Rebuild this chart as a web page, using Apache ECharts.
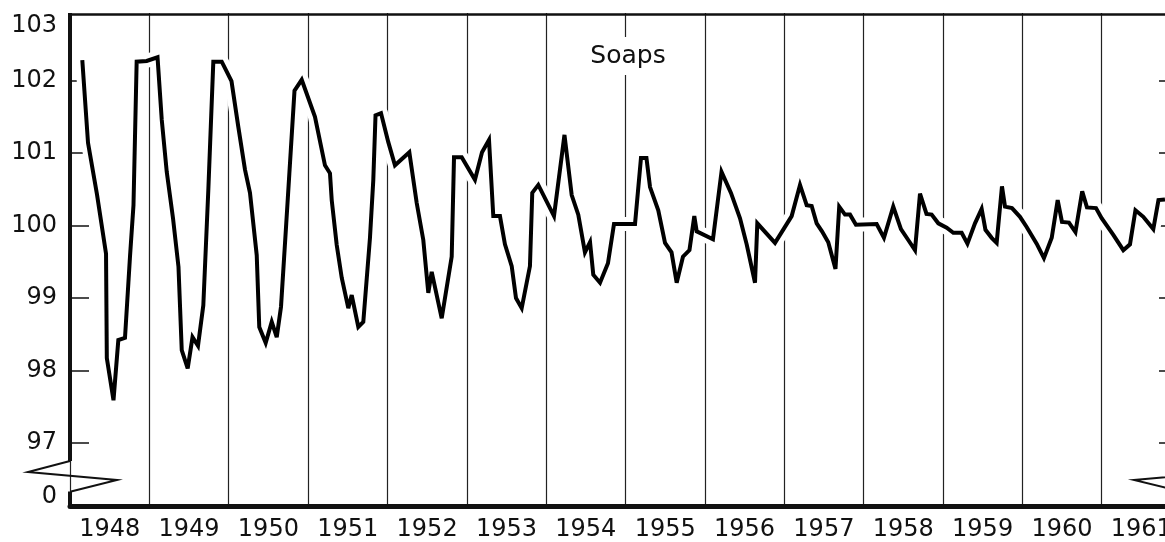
<!DOCTYPE html>
<html>
<head>
<meta charset="utf-8">
<title>Soaps</title>
<script src="https://cdn.jsdelivr.net/npm/echarts@6/dist/echarts.min.js"></script>
<style>
  html, body { margin: 0; padding: 0; background: #fff; }
  #chart { width: 1165px; height: 542px; }
</style>
</head>
<body>
<div id="chart"></div>
<script>
var chartTitle = 'Soaps';
var yearLabels = ['1948', '1949', '1950', '1951', '1952', '1953', '1954',
    '1955', '1956', '1957', '1958', '1959', '1960', '1961'];

// where each corner of the curve sits, in years
var pointYear = [
    1948.155, 1948.227, 1948.340, 1948.454, 1948.464, 1948.548, 1948.609, 1948.693, 1948.756, 1948.800,
    1948.840, 1948.966, 1949.103, 1949.156, 1949.219, 1949.298, 1949.367, 1949.408, 1949.483, 1949.544,
    1949.613, 1949.680, 1949.743, 1949.806, 1949.912, 1950.035, 1950.121, 1950.205, 1950.268, 1950.353,
    1950.385, 1950.466, 1950.542, 1950.605, 1950.659, 1950.716, 1950.829, 1950.920, 1951.087, 1951.213,
    1951.276, 1951.298, 1951.361, 1951.424, 1951.507, 1951.550, 1951.633, 1951.696, 1951.780, 1951.822,
    1951.850, 1951.919, 1952.011, 1952.095, 1952.276, 1952.369, 1952.452, 1952.515, 1952.558, 1952.684,
    1952.810, 1952.839, 1952.936, 1953.103, 1953.192, 1953.280, 1953.334, 1953.418, 1953.481, 1953.566,
    1953.620, 1953.692, 1953.796, 1953.825, 1953.901, 1954.099, 1954.231, 1954.322, 1954.405, 1954.489,
    1954.553, 1954.594, 1954.679, 1954.779, 1954.855, 1955.120, 1955.195, 1955.264, 1955.309, 1955.413,
    1955.498, 1955.580, 1955.645, 1955.724, 1955.806, 1955.867, 1955.897, 1956.102, 1956.210, 1956.329,
    1956.443, 1956.527, 1956.632, 1956.661, 1956.884, 1957.094, 1957.199, 1957.283, 1957.346, 1957.409,
    1957.476, 1957.555, 1957.646, 1957.693, 1957.766, 1957.829, 1957.904, 1958.165, 1958.257, 1958.374,
    1958.471, 1958.563, 1958.648, 1958.711, 1958.793, 1958.858, 1958.942, 1959.047, 1959.131, 1959.236,
    1959.309, 1959.404, 1959.488, 1959.536, 1959.614, 1959.677, 1959.744, 1959.782, 1959.870, 1959.971,
    1960.055, 1960.181, 1960.273, 1960.371, 1960.446, 1960.500, 1960.588, 1960.670, 1960.755, 1960.815,
    1960.929, 1961.000, 1961.147, 1961.273, 1961.357, 1961.426, 1961.525, 1961.651, 1961.716, 1961.798
];
var pointValue = [
    102.28, 101.14, 100.43, 99.61, 98.17, 97.59, 98.42, 98.45, 99.57, 100.28,
    102.26, 102.27, 102.32, 101.46, 100.74, 100.10, 99.43, 98.28, 98.03, 98.46,
    98.34, 98.90, 100.49, 102.26, 102.26, 101.99, 101.36, 100.77, 100.45, 99.59,
    98.60, 98.38, 98.67, 98.46, 98.88, 99.87, 101.86, 102.01, 101.50, 100.83,
    100.72, 100.35, 99.73, 99.28, 98.86, 99.04, 98.60, 98.67, 99.83, 100.63,
    101.52, 101.55, 101.15, 100.83, 101.01, 100.31, 99.80, 99.07, 99.36, 98.72,
    99.57, 100.94, 100.94, 100.63, 101.01, 101.18, 100.13, 100.13, 99.74, 99.44,
    99.00, 98.86, 99.44, 100.45, 100.56, 100.13, 101.25, 100.42, 100.15, 99.63,
    99.77, 99.32, 99.21, 99.48, 100.02, 100.02, 100.93, 100.93, 100.53, 100.21,
    99.76, 99.63, 99.21, 99.57, 99.66, 100.13, 99.92, 99.81, 100.74, 100.45,
    100.10, 99.74, 99.21, 100.03, 99.76, 100.13, 100.56, 100.28, 100.27, 100.03,
    99.92, 99.77, 99.40, 100.26, 100.15, 100.15, 100.01, 100.02, 99.83, 100.26,
    99.95, 99.80, 99.66, 100.44, 100.16, 100.15, 100.03, 99.97, 99.90, 99.90,
    99.75, 100.03, 100.23, 99.94, 99.83, 99.76, 100.54, 100.26, 100.24, 100.12,
    99.98, 99.75, 99.55, 99.83, 100.35, 100.05, 100.04, 99.91, 100.47, 100.25,
    100.24, 100.10, 99.87, 99.66, 99.74, 100.21, 100.12, 99.95, 100.35, 100.36
];

// the value scale jumps from 0 straight up to 97
var breakStart = 0;
var breakEnd = 97;

var fontName = 'DejaVu Sans';
var ink = '#111';

var chart = echarts.init(document.getElementById('chart'));

function yLabel(v) {
    var r = Math.round(v);
    if (Math.abs(v - r) > 1e-6) return '';
    if (r === 103) return '{top|103}';
    if (r === 0) return '{low|0}';
    return String(r);
}

function valueAxis(pos) {
    var left = pos == 'left';
    var labelFont = {color: ink, fontFamily: fontName, fontSize: 24};
    return {
        type: 'value',
        position: pos,
        min: 0,
        max: 103,
        interval: 1,
        breaks: [{start: breakStart, end: breakEnd, gap: 0.869}],
        breakArea: {show: false},
        axisLine: {show: left, lineStyle: {color: ink, width: 4}},
        axisTick: {show: true, inside: true, length: left ? 19 : 22, lineStyle: {color: ink, width: 1.5}},
        axisLabel: {
            show: left,
            margin: 13,
            color: ink,
            fontFamily: fontName,
            fontSize: 24,
            formatter: yLabel,
            rich: {
                top: Object.assign({padding: [36, 0, 0, 0]}, labelFont),
                low: Object.assign({padding: [0, 0, 18, 0]}, labelFont)
            }
        },
        splitLine: {show: false}
    };
}

var linePoints = pointYear.map(function (x, i) {
    return [x, pointValue[i]];
});

var option = {
    animation: false,
    backgroundColor: '#fff',
    title: {
        text: chartTitle,
        left: 620,
        top: 37,
        textAlign: 'center',
        backgroundColor: '#fff',
        padding: [6, 8],
        textStyle: {fontFamily: fontName, fontSize: 25, fontWeight: 'normal', color: ink, lineHeight: 26}
    },
    grid: {left: 70, right: -16, top: 8, bottom: 36, containLabel: false, outerBoundsMode: 'none'},
    xAxis: [
        {
            type: 'value',
            min: 1948,
            max: 1962,
            interval: 1,
            axisLine: {onZero: false, lineStyle: {color: ink, width: 5}},
            axisTick: {show: false},
            axisLabel: {show: false},
            splitLine: {show: true, lineStyle: {color: '#222', width: 1.2}}
        },
        {
            type: 'category',
            data: yearLabels,
            boundaryGap: true,
            position: 'bottom',
            axisLine: {show: false},
            axisTick: {show: false},
            axisLabel: {interval: 0, margin: 12, color: ink, fontFamily: fontName, fontSize: 24},
            splitLine: {show: false}
        },
        {
            // top frame
            type: 'value',
            position: 'top',
            offset: -6,
            min: 1948,
            max: 1962,
            axisLine: {onZero: false, lineStyle: {color: ink, width: 2.5}},
            axisTick: {show: false},
            axisLabel: {show: false},
            splitLine: {show: false}
        }
    ],
    yAxis: [valueAxis('left'), valueAxis('right')],
    series: [
        {
            // white margin that cuts the grid lines round the curve
            type: 'line',
            xAxisIndex: 0,
            yAxisIndex: 0,
            data: linePoints,
            symbol: 'none',
            silent: true,
            z: 2,
            lineStyle: {color: '#fff', width: 14, join: 'round'}
        },
        {
            name: chartTitle,
            type: 'line',
            xAxisIndex: 0,
            yAxisIndex: 0,
            data: linePoints,
            symbol: 'none',
            z: 3,
            lineStyle: {color: '#000', width: 4, join: 'miter', miterLimit: 4}
        }
    ]
};
chart.setOption(option);

// zig-zag marks where the scale is broken, on both side axes
function drawBreakMarks() {
    var axisX = chart.convertToPixel({xAxisIndex: 0}, 1948);
    var edgeX = chart.convertToPixel({xAxisIndex: 0}, 1962);
    var topFrame = chart.convertToPixel({yAxisIndex: 0}, 103) + 5;
    var endY = chart.convertToPixel({yAxisIndex: 0}, breakEnd);
    var startY = chart.convertToPixel({yAxisIndex: 0}, breakStart);
    var zigTop = endY + 18;
    var zigBottom = startY - 14.5;
    var markStyle = {stroke: ink, lineWidth: 2, fill: null};
    var axisStyle = {stroke: ink, lineWidth: 4};
    chart.setOption({
        graphic: [
            // nothing shows above the top frame
            {type: 'rect', z: 50, shape: {x: axisX - 4, y: 0, width: edgeX - axisX + 10, height: topFrame}, style: {fill: '#fff'}},
            // the left axis runs on into the break marks
            {type: 'line', z: 51, shape: {x1: axisX, y1: endY - 1, x2: axisX, y2: zigTop}, style: axisStyle},
            {type: 'line', z: 51, shape: {x1: axisX, y1: zigBottom, x2: axisX, y2: startY}, style: axisStyle},
            {
                type: 'polyline', z: 51,
                shape: {points: [[axisX, zigTop], [axisX - 42, zigTop + 11], [axisX + 47, zigTop + 19], [axisX + 1, zigBottom]]},
                style: markStyle
            },
            {
                type: 'polyline', z: 51,
                shape: {points: [[edgeX, zigTop], [edgeX + 42, zigTop + 11], [edgeX - 47, zigTop + 19], [edgeX, zigBottom]]},
                style: markStyle
            }
        ]
    });
}
drawBreakMarks();
</script>
</body>
</html>
